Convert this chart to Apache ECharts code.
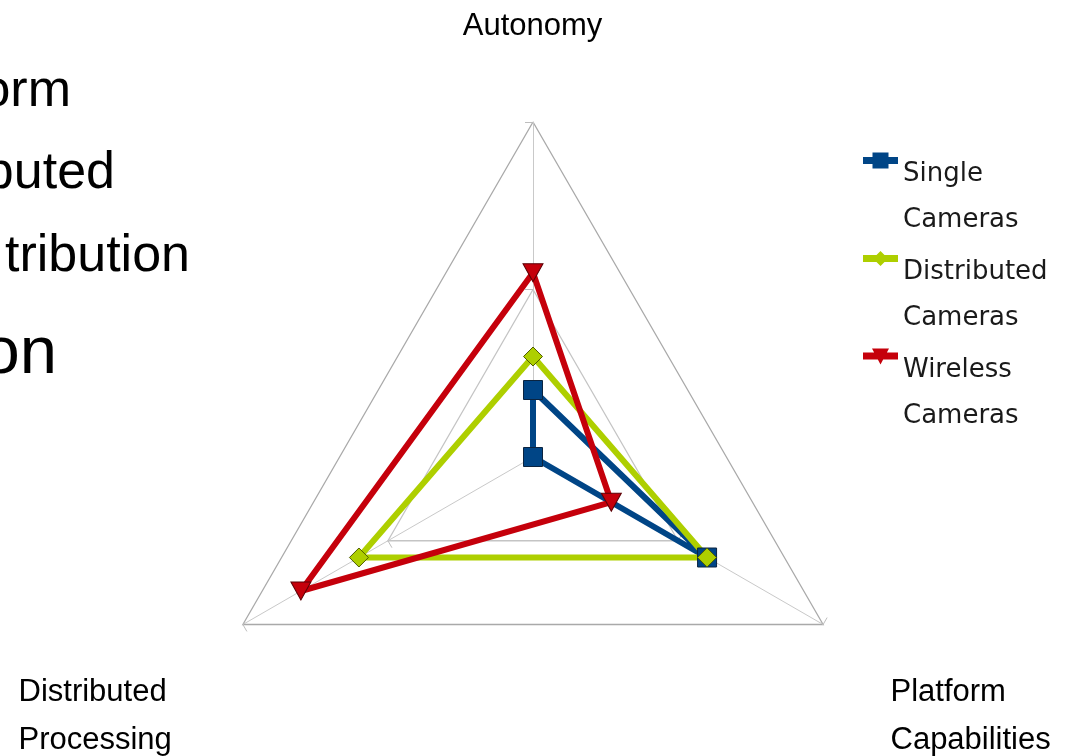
<!DOCTYPE html>
<html>
<head>
<meta charset="utf-8">
<title>Camera systems radar</title>
<script src="https://cdn.jsdelivr.net/npm/echarts@6/dist/echarts.min.js"></script>
<style>
  html, body { margin: 0; padding: 0; background: #ffffff; }
  #chart { width: 1073px; height: 756px; }
</style>
</head>
<body>
<div id="chart"></div>
<script>
// Radar axes (counter-clockwise from the top) and their scale
const indicatorNames = ['Autonomy', 'Distributed\nProcessing', 'Platform\nCapabilities'];
const indicatorMax = [10, 10, 10];

// One value per axis, in the order of indicatorNames
const seriesNames = ['Single\nCameras', 'Distributed\nCameras', 'Wireless\nCameras'];
const singleCameras = [2, 0, 6];
const distributedCameras = [3, 6, 6];
const wirelessCameras = [5.5, 8, 2.7];

// Bullet text of the slide, clipped by the left edge
const slideFragments = ['orm', 'buted', 'tribution', 'on'];

const colors = ['#004586', '#aecf00', '#c5000b'];
const borderColors = ['#0b2440', '#4f5c00', '#5c0006'];

// Legend icons: a thick line with the series marker on it (35 x 16 box)
const legendIcons = [
  'path://M0,4.5H35V11.5H0Z M9.5,0H25.5V16H9.5Z',
  'path://M0,4.5H35V11.5H0Z M17.5,0.5L25,8L17.5,15.5L10,8Z M0,0M35,16',
  'path://M0,4H35V11H0Z M9,0H26L17.5,16Z'
];

const chart = echarts.init(document.getElementById('chart'), null, { renderer: 'canvas' });

const labelFont = { fontFamily: 'Liberation Sans', fontSize: 31, fill: '#000000' };

const axisTitleSpots = [
  { x: 532.5, y: 26, align: 'center' },
  { x: 18.5, y: 716, align: 'left' },
  { x: 890.5, y: 716, align: 'left' }
];

const fragmentSpots = [
  { x: 71, y: 92, size: 52 },
  { x: 115, y: 174, size: 52 },
  { x: 190, y: 257, size: 52 },
  { x: 57, y: 355, size: 67 }
];

const graphics = [];
indicatorNames.forEach(function (name, i) {
  const s = axisTitleSpots[i];
  graphics.push({
    type: 'text',
    x: s.x, y: s.y,
    silent: true,
    style: Object.assign({
      text: name,
      align: s.align,
      verticalAlign: 'middle',
      lineHeight: 48
    }, labelFont)
  });
});
slideFragments.forEach(function (t, i) {
  const s = fragmentSpots[i];
  graphics.push({
    type: 'text',
    x: s.x, y: s.y,
    silent: true,
    style: {
      text: t,
      align: 'right',
      verticalAlign: 'middle',
      fontFamily: 'Liberation Sans',
      fontSize: s.size,
      fill: '#000000'
    }
  });
});

const seriesValues = [singleCameras, distributedCameras, wirelessCameras];
const symbols = ['rect', 'diamond', 'triangle'];
const symbolRotations = [0, 0, 180];

chart.setOption({
  animation: false,
  backgroundColor: '#ffffff',
  graphic: graphics,
  legend: {
    orient: 'vertical',
    left: 863,
    top: 78,
    padding: 0,
    itemWidth: 35,
    itemHeight: 16,
    itemGap: -67,
    selectedMode: false,
    itemStyle: { borderWidth: 0 },
    // first line of each name sits level with its icon
    formatter: function (name) {
      return name.split('\n').map(function (s) { return '{n|' + s + '}'; }).join('\n');
    },
    textStyle: {
      fontFamily: 'DejaVu Sans',
      fontSize: 26,
      color: '#1a1a1a',
      lineHeight: 46,
      padding: [73, 0, 0, 0],
      rich: {
        n: { fontFamily: 'DejaVu Sans', fontSize: 26, color: '#1a1a1a', lineHeight: 46 }
      }
    },
    data: seriesNames.map(function (n, i) {
      return { name: n, icon: legendIcons[i] };
    })
  },
  radar: {
    center: [533, 457],
    radius: 335,
    startAngle: 90,
    shape: 'polygon',
    splitNumber: 2,
    indicator: indicatorNames.map(function (n, i) {
      return { name: n, min: 0, max: indicatorMax[i] };
    }),
    axisName: { show: false },
    axisLine: { lineStyle: { color: '#c9c9c9', width: 1 } },
    axisTick: { show: true, length: 8, lineStyle: { color: '#bdbdbd', width: 1 } },
    splitLine: { lineStyle: { color: ['#c4c4c4', '#c4c4c4', '#a9a9a9'], width: 1.3 } },
    splitArea: { show: false }
  },
  series: [{
    type: 'radar',
    emphasis: { disabled: true },
    data: seriesValues.map(function (vals, i) {
      return {
        name: seriesNames[i],
        value: vals,
        symbol: symbols[i],
        symbolSize: i === 2 ? [20, 18] : 19,
        symbolRotate: symbolRotations[i],
        itemStyle: { color: colors[i], borderColor: borderColors[i], borderWidth: 1 },
        lineStyle: { color: colors[i], width: 6 },
        areaStyle: { opacity: 0 }
      };
    })
  }]
});
</script>
</body>
</html>
